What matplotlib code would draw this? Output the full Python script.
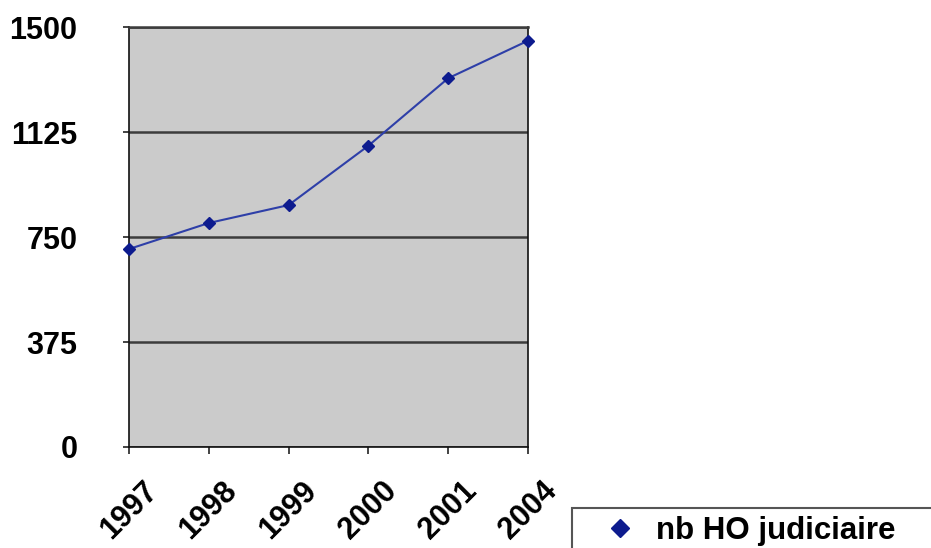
import matplotlib
matplotlib.use("Agg")
import matplotlib.pyplot as plt
from matplotlib.lines import Line2D
from matplotlib.patches import Rectangle

years = ["1997", "1998", "1999", "2000", "2001", "2004"]
values = [707, 800, 864, 1076, 1317, 1451]
yticks = [0, 375, 750, 1125, 1500]
series_name = "nb HO judiciaire"

plt.rcParams['font.family'] = ['Liberation Sans', 'DejaVu Sans']
plt.rcParams['font.weight'] = 'bold'
FS = 22.5

W, H = 931, 548
fig = plt.figure(figsize=(W/100, H/100), dpi=100)
ax = fig.add_axes([129/W, 1-447/H, (528-129)/W, (447-27)/H])
ax.set_facecolor('#cbcbcb')

x = list(range(len(years)))
ax.plot(x, values, color='#2e3fa8', lw=1.5, marker='D', markersize=6,
        markerfacecolor='#0d1b8e', markeredgecolor='#0d1b8e', zorder=3, clip_on=False)

ax.set_xlim(0, len(years) - 1)
ax.set_ylim(0, 1500)
ax.set_yticks(yticks)
ax.set_yticklabels([str(v) for v in yticks], fontsize=22, fontweight='bold')
ax.set_xticks(x)
ax.set_xticklabels(years, fontsize=22, fontweight='bold', rotation=45, ha='center', va='top')

ax.yaxis.grid(True, color='#3c3c3c', lw=1.8)
ax.set_axisbelow(True)
ax.tick_params(axis='y', direction='out', length=4, width=1.2, pad=33, color='#222222')
ax.tick_params(axis='x', direction='out', length=5, width=1.2, pad=16, color='#222222')
for s in ['left', 'right', 'bottom']:
    ax.spines[s].set_color('#111111')
    ax.spines[s].set_linewidth(1.2)
ax.spines['top'].set_color('#3c3c3c')
ax.spines['top'].set_linewidth(1.8)

# legend frame (extends past the figure edge as in the reference)
frame = Rectangle((572/W, 1-560/H), (960-572)/W, (560-508)/H, transform=fig.transFigure,
                  facecolor='white', edgecolor='#555555', lw=1.5, zorder=1)
fig.patches.append(frame)

handle = Line2D([], [], color='#0d1b8e', marker='D', markersize=9, lw=0,
                markerfacecolor='#0d1b8e', markeredgecolor='#0d1b8e')
leg = fig.legend([handle], [series_name], loc='center left',
                 bbox_to_anchor=(601/W, 1-531/H), bbox_transform=fig.transFigure,
                 frameon=False, borderaxespad=0, borderpad=0,
                 prop={'family': 'Liberation Sans', 'weight': 'bold', 'size': FS},
                 handlelength=1.2, handletextpad=0.55)
leg.set_zorder(2)

fig.savefig('out.png', dpi=100)
